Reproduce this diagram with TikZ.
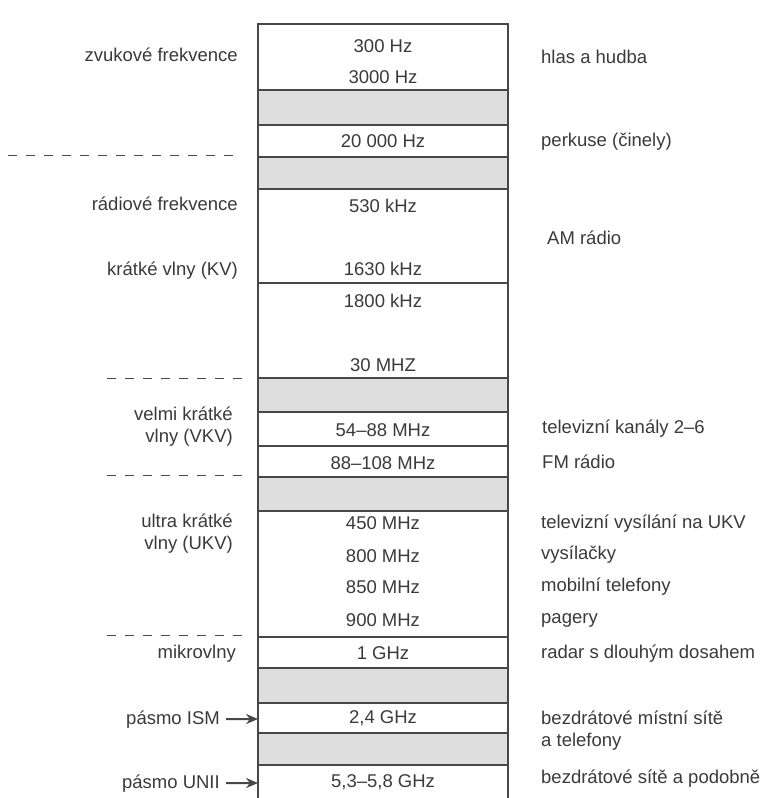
\documentclass[tikz,border=0pt]{standalone}
\usepackage{fontspec}
\setmainfont{Liberation Sans}
\usepackage{xcolor}
\definecolor{ink}{RGB}{58, 58, 58}
\definecolor{rule}{RGB}{72, 72, 72}
\definecolor{shade}{RGB}{222, 222, 222}
\usepackage{tikz}
\usetikzlibrary{arrows.meta}

\begin{document}
\begin{tikzpicture}[
  x=1pt, y=-1pt,
  txt/.style={text=ink, font=\fontsize{18.5}{22}\selectfont, inner sep=0pt},
  freq/.style={txt, anchor=base},
  bandname/.style={txt, anchor=base east, align=right},
  usage/.style={txt, anchor=base west, align=left},
  gap/.style={fill=shade},
  frame/.style={draw=rule, line width=1.8pt},
  divider/.style={draw=rule, line width=1pt, dash pattern=on 9pt off 9pt},
  arrow/.style={-{Stealth[length=12pt, width=10pt]}, line width=2pt, color=rule, shorten <=6pt}
]
\useasboundingbox (0,0) rectangle (761,798);

% shaded gaps and frame
\foreach \a/\b in {90/125, 157/189, 378/412, 477/511, 668/703, 733/765}
  \fill[gap] (258,\a) rectangle (508,\b);
\foreach \y in {24, 90, 125, 157, 189, 283, 378, 412, 446, 477, 511, 637, 668, 703, 733, 765}
  \draw[frame] (258,\y) -- (508,\y);
\draw[frame] (258,798) -- (258,24) -- (508,24) -- (508,798);

% band borders on the left
\draw[divider] (8,155) -- (242,155);
\foreach \y in {378, 475, 635}
  \draw[divider] (107,\y) -- (242,\y);

% frequencies
\node[freq] (f300) at (383,52) {300 Hz};
\node[freq] (f3000) at (383,83) {3000 Hz};
\node[freq] (f20k) at (383,147) {20 000 Hz};
\node[freq] (f530) at (383,212) {530 kHz};
\node[freq] (f1630) at (383,275) {1630 kHz};
\node[freq] (f1800) at (383,307) {1800 kHz};
\node[freq] (f30m) at (383,371) {30 MHZ};
\node[freq] (f54) at (383,436) {54–88 MHz};
\node[freq] (f88) at (383,469) {88–108 MHz};
\node[freq] (f450) at (383,529) {450 MHz};
\node[freq] (f800) at (383,562) {800 MHz};
\node[freq] (f850) at (383,593) {850 MHz};
\node[freq] (f900) at (383,626) {900 MHz};
\node[freq] (f1g) at (383,659) {1 GHz};
\node[freq] (f24g) at (383,723) {2,4 GHz};
\node[freq] (f53g) at (383,787) {5,3–5,8 GHz};

% names of the ranges (two-line ones sit on their last line)
\node[bandname] (audio) at (238,61) {zvukové frekvence};
\node[bandname] (radio) at (238,210) {rádiové frekvence};
\node[bandname] (kv) at (238,275) {krátké vlny (KV)};
\node[bandname] (vkv) at (233,442) {velmi krátké\\vlny (VKV)};
\node[bandname] (ukv) at (233,549) {ultra krátké\\vlny (UKV)};
\node[bandname] (micro) at (236,658) {mikrovlny};
\node[bandname] (ism) at (220,724) {pásmo ISM};
\node[bandname] (unii) at (220,788) {pásmo UNII};
\coordinate (ismTip) at (258,719);
\coordinate (uniiTip) at (258,783);

% uses
\node[usage] (voice) at (541,63) {hlas a hudba};
\node[usage] (perc) at (541,146) {perkuse (činely)};
\node[usage] (am) at (547,244) {AM rádio};
\node[usage] (tv) at (542,433) {televizní kanály 2–6};
\node[usage] (fm) at (542,468) {FM rádio};
\node[usage] (tvukv) at (541,528) {televizní vysílání na UKV};
\node[usage] (walkie) at (541,559) {vysílačky};
\node[usage] (mobile) at (541,591) {mobilní telefony};
\node[usage] (pager) at (541,623) {pagery};
\node[usage] (radar) at (541,658) {radar s dlouhým dosahem};
\node[usage] (wlan) at (541,746) {bezdrátové místní sítě\\a telefony};
\node[usage] (wifi) at (541,783) {bezdrátové sítě a podobně};

\draw[arrow] (ism) -- (ismTip);
\draw[arrow] (unii) -- (uniiTip);
\end{tikzpicture}
\end{document}
